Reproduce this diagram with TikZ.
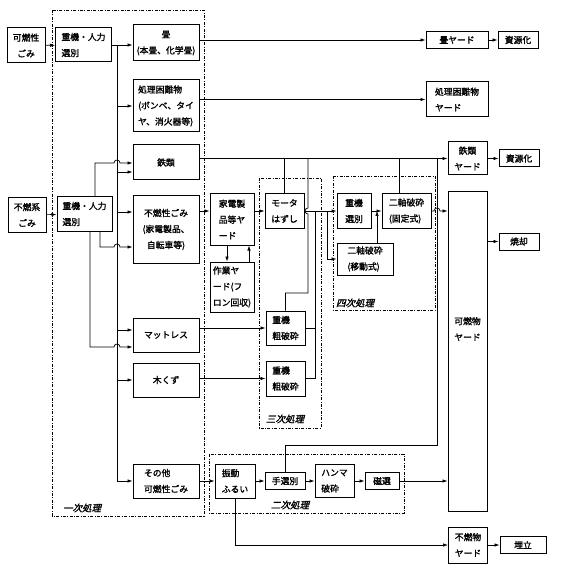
\documentclass[tikz,border=0pt]{standalone}
\usepackage{fontspec}
\newfontfamily\jp{Noto Sans CJK JP}[FakeBold=1.6]
\newfontfamily\jpit{Noto Sans CJK JP}[FakeSlant=0.25,FakeBold=1.6]
\usetikzlibrary{positioning,arrows.meta}

\tikzset{
  box/.style={draw, line width=1pt, inner sep=1pt, align=center,
    font=\jp\fontsize{8.8}{16}\selectfont},
  lbox/.style={box, align=left},
  grp/.style={line width=0.9pt, dash pattern=on 3pt off 1.5pt on 0.8pt off 1.5pt},
  grplabel/.style={font=\jpit\fontsize{9.5}{10}\selectfont},
}

\begin{document}
\begin{tikzpicture}[x=1pt,y=-1pt,line width=0.7pt,>={Latex[length=5pt,width=3.5pt]}]
\useasboundingbox (0,0) rectangle (572,569);

% processing stages
\draw[grp] (52,10) rectangle (204,516);
\draw[grp] (259,178) rectangle (321,428);
\draw[grp] (333,176) rectangle (435,310);
\draw[grp] (209,454) rectangle (404,513);
\node[grplabel] (lab1) at (82,508) {一次処理};
\node[grplabel] (lab3) at (285,419) {三次処理};
\node[grplabel] (lab4) at (355,303) {四次処理};
\node[grplabel] (lab2) at (290,505) {二次処理};

% inputs and first sorting
\node[box, minimum width=38, minimum height=35] (kanen) at (26,45.5) {可燃性\\ごみ};
\node[box, minimum width=38, minimum height=34] (fukanen) at (27,215) {不燃系\\ごみ};
\node[lbox, minimum width=56, minimum height=34] (sel1) at (83.5,45) {重機・人力\\選別};
\node[lbox, minimum width=55, minimum height=34] (sel2) at (84.5,214) {重機・人力\\選別};

\node[box, minimum width=66, minimum height=36] (tatami) at (166,43) {畳\\(本畳、化学畳)};
\node[lbox, minimum width=66, minimum height=52] (konnan) at (166,106) {処理困難物\\(ボンベ、タイ\\ヤ、消火器等)};
\node[box, minimum width=66, minimum height=35] (tetsu) at (166,162.5) {鉄類};
\node[box, minimum width=66, minimum height=67] (funen) at (166,229.5) {不燃性ごみ\\(家電製品、\\自転車等)};
\node[box, minimum width=66, minimum height=34] (mattress) at (166,335) {マットレス};
\node[box, minimum width=66, minimum height=34] (kikuzu) at (166,380) {木くず};
\node[lbox, minimum width=66, minimum height=34] (sonota) at (166,481) {その他\\可燃性ごみ};

% third / fourth stage
\node[lbox, minimum width=44, minimum height=51] (kadenY) at (232,219.5) {家電製\\品等ヤ\\ード};
\node[lbox, minimum width=44, minimum height=50] (sagyouY) at (232,287) {作業ヤ\\ード(フ\\ロン回収)};
\node[lbox, minimum width=39, minimum height=34] (motor) at (284.5,211) {モータ\\はずし};
\node[lbox, minimum width=39, minimum height=34] (juki1) at (285.5,328) {重機\\粗破砕};
\node[lbox, minimum width=39, minimum height=35] (juki2) at (285.5,378.5) {重機\\粗破砕};
\node[lbox, minimum width=34, minimum height=35] (sentaku) at (354,211) {重機\\選別};
\node[lbox, minimum width=49, minimum height=34] (nijikuK) at (406.5,211) {二軸破砕\\(固定式)};
\node[lbox, minimum width=56, minimum height=32] (nijikuI) at (365,259) {二軸破砕\\(移動式)};

% second stage
\node[lbox, minimum width=40, minimum height=34] (shindou) at (235,481) {振動\\ふるい};
\node[box, minimum width=40, minimum height=17] (tesen) at (285,481) {手選別};
\node[lbox, minimum width=39, minimum height=33] (hammer) at (334.5,481) {ハンマ\\破砕};
\node[box, minimum width=34, minimum height=17] (jisen) at (382,481) {磁選};

% yards and destinations
\node[box, minimum width=62, minimum height=17] (tatamiY) at (457,40) {畳ヤード};
\node[box, minimum width=40, minimum height=17] (shigen1) at (518,40) {資源化};
\node[lbox, minimum width=62, minimum height=35] (konnanY) at (457,99.5) {処理困難物\\ヤード};
\node[box, minimum width=39, minimum height=33] (tetsuY) at (467.5,158.5) {鉄類\\ヤード};
\node[box, minimum width=40, minimum height=17] (shigen2) at (519,158.5) {資源化};
\node[box, minimum width=39, minimum height=319] (kanenY) at (467.5,351.5) {};
\node[box, draw=none] (kanenYt) at (467.5,329) {可燃物\\ヤード};
\node[box, minimum width=40, minimum height=17] (shoukyaku) at (519,241.5) {焼却};
\node[box, minimum width=39, minimum height=36] (funenY) at (468,545) {不燃物\\ヤード};
\node[box, minimum width=46, minimum height=17] (umetate) at (523,545) {埋立};

% first sorting
\draw[->] (kanen) -- (sel1);
\draw[->] (fukanen) -- (sel2);
\draw[->] (sel1) -- (sel1 -| tatami.west);
\coordinate (tr) at (117,45);
\draw[->] (tr) |- (sonota);
\draw[->] (tr |- konnan) -- (konnan);
\draw[->] (117,172) -- (tetsu.west |- 0,172);
\draw[->] (117,212) -- (funen.west |- 0,212);
\draw[->] (117,330) -- (mattress.west |- 0,330);
\draw[->] (tr |- kikuzu) -- (kikuzu);
\draw[->] (sel2.north -| 95,0) |- (114,163) arc[start angle=180,end angle=360,radius=3] -- (tetsu.west |- 0,163);
\draw[->] (sel2.south -| 100,0) |- (114,247) arc[start angle=180,end angle=360,radius=3] -- (funen.west |- 0,247);
\draw[->] (sel2.south -| 90,0) |- (114,347) arc[start angle=180,end angle=360,radius=3] -- (mattress.west |- 0,347);

% to yards
\draw[->] (tatami.east |- tatamiY.west) -- (tatamiY.west);
\draw[->] (konnan.east |- konnanY.west) -- (konnanY.west);
\draw[->] (tetsu.east |- tetsuY.west) -- (tetsuY.west);
\draw[->] (tatamiY) -- (shigen1);
\draw[->] (tetsuY) -- (shigen2);
\draw[->] (kanenY.east |- shoukyaku) -- (shoukyaku);
\draw[->] (funenY) -- (umetate);

% third and fourth stage
\draw[->] (funen.east |- motor.west) -- (kadenY.west |- motor.west);
\draw[->] (kadenY.east |- motor.west) -- (motor.west);
\draw[->] (kadenY.south -| 227,0) -- (sagyouY.north -| 227,0);
\draw[->] (sagyouY.north -| 249,0) -- (kadenY.south -| 249,0);
\draw (motor.north) -- (motor.north |- tetsuY.west);
\draw[->] (mattress.east |- juki1.west) -- (juki1.west);
\draw[->] (kikuzu.east |- juki2.west) -- (juki2.west);
\draw (juki1.north) |- (308,293) -- (308,214) arc[start angle=90,end angle=270,radius=3] -- (308,0 |- tetsuY.west);
\draw (juki1.east) -- (juki1.east -| 315,0);
\draw (juki2.east) -| (315,211);
\draw[->] (motor.east) -- (sentaku.west);
\draw[->] (327,211) |- (nijikuI.west);
\draw[->] (sentaku) -- (nijikuK);
\draw[->] (nijikuI.north -| 377,0) -- (377,211);
\draw (nijikuK.north -| 399,0) -- (399,0 |- tetsuY.west);
\draw[->] (nijikuK.east) -- (434,211) arc[start angle=180,end angle=360,radius=3] -- (kanenY.west |- 0,211);

% second stage
\draw[->] (sonota) -- (shindou);
\draw[->] (shindou) -- (tesen);
\draw[->] (tesen) -- (hammer);
\draw[->] (hammer) -- (jisen);
\draw[->] (jisen) -- (jisen -| kanenY.west);
\draw (tesen.north) |- (437,445) -- (437,0 |- tetsuY.west);
\draw[->] (shindou.south) |- (funenY.west);
\end{tikzpicture}
\end{document}
